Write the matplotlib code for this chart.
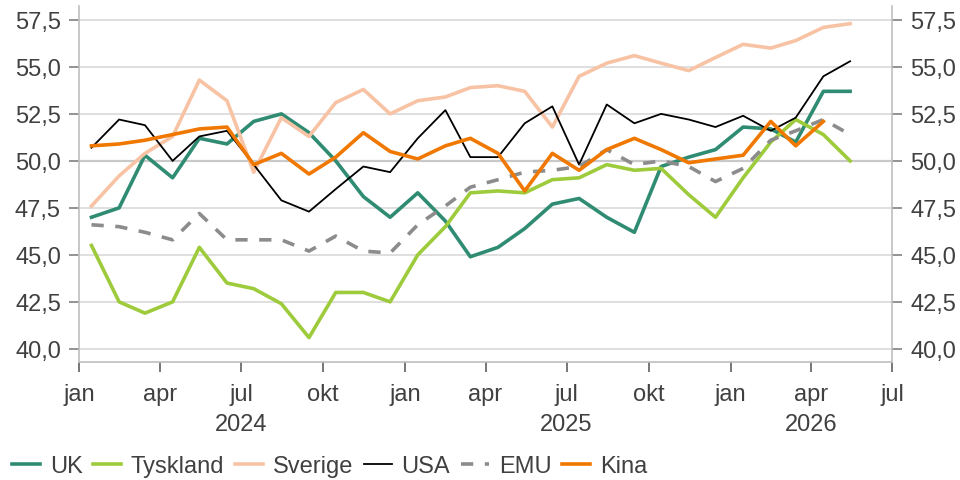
import matplotlib
matplotlib.use('Agg')
import matplotlib.pyplot as plt
from matplotlib.ticker import FuncFormatter
import numpy as np
import pandas as pd

# --- Data: PMI (index), monthly, Jan 2024 - May 2026 ---
months = pd.date_range('2024-01-01', '2026-05-01', freq='MS')
dates = months + pd.Timedelta(days=14)   # plotted mid-month

uk = [47.0, 47.5, 50.3, 49.1, 51.2, 50.9, 52.1, 52.5, 51.5, 50.0,
      48.1, 47.0, 48.3, 46.8, 44.9, 45.4, 46.4, 47.7, 48.0, 47.0,
      46.2, 49.7, 50.2, 50.6, 51.8, 51.7, 51.0, 53.7, 53.7]
tyskland = [45.5, 42.5, 41.9, 42.5, 45.4, 43.5, 43.2, 42.4, 40.6, 43.0,
            43.0, 42.5, 45.0, 46.5, 48.3, 48.4, 48.3, 49.0, 49.1, 49.8,
            49.5, 49.6, 48.2, 47.0, 49.1, 51.0, 52.2, 51.4, 50.0]
sverige = [47.6, 49.2, 50.4, 51.3, 54.3, 53.2, 49.4, 52.3, 51.3, 53.1,
           53.8, 52.5, 53.2, 53.4, 53.9, 54.0, 53.7, 51.8, 54.5, 55.2,
           55.6, 55.2, 54.8, 55.5, 56.2, 56.0, 56.4, 57.1, 57.3]
usa = [50.7, 52.2, 51.9, 50.0, 51.3, 51.6, 49.8, 47.9, 47.3, 48.5,
       49.7, 49.4, 51.2, 52.7, 50.2, 50.2, 52.0, 52.9, 49.8, 53.0,
       52.0, 52.5, 52.2, 51.8, 52.4, 51.6, 52.3, 54.5, 55.3]
emu = [46.6, 46.5, 46.2, 45.8, 47.2, 45.8, 45.8, 45.8, 45.2, 46.0,
       45.2, 45.1, 46.6, 47.6, 48.6, 49.0, 49.4, 49.5, 49.7, 50.6,
       49.8, 50.0, 49.7, 48.9, 49.6, 51.1, 51.6, 52.2, 51.4]
kina = [50.8, 50.9, 51.1, 51.4, 51.7, 51.8, 49.8, 50.4, 49.3, 50.2,
        51.5, 50.5, 50.1, 50.8, 51.2, 50.4, 48.4, 50.4, 49.5, 50.6,
        51.2, 50.6, 49.9, 50.1, 50.3, 52.1, 50.8, 52.1]

# --- Style ---
FONT = 'Liberation Sans'
FS = 17
TXT = '#404040'
GRID = '#d9d9d9'
SPINE = '#bfbfbf'

plt.rcParams['font.family'] = [FONT, 'DejaVu Sans']

fig = plt.figure(figsize=(9.6, 4.81), dpi=100)
ax = fig.add_axes([79 / 960, 1 - 363 / 481, (892 - 79) / 960, (363 - 7) / 481])

ax.set_ylim(39.3, 58.24)
ax.set_xlim(pd.Timestamp('2024-01-01'), pd.Timestamp('2026-07-01'))

ax.set_yticks(np.arange(40, 57.6, 2.5))
ax.grid(axis='y', color=GRID, linewidth=1.2, zorder=0)
ax.axhline(50, color='#7f7f7f', linewidth=1.5, zorder=1)

lw = 2.6
ax.plot(dates, uk, color='#2f8c72', lw=lw, label='UK', zorder=3)
ax.plot(dates, tyskland, color='#9dcb3c', lw=lw, label='Tyskland', zorder=3)
ax.plot(dates, sverige, color='#f7c3a4', lw=lw, label='Sverige', zorder=3)
ax.plot(dates, usa, color='black', lw=1.3, label='USA', zorder=3)
ax.plot(dates, emu, color='#8c8c8c', lw=lw, ls=(0, (3.4, 3.2)), label='EMU', zorder=3)
ax.plot(dates[:len(kina)], kina, color='#f07800', lw=lw, label='Kina', zorder=4)

# spines
for side in ['left', 'right', 'bottom']:
    ax.spines[side].set_color(SPINE)
    ax.spines[side].set_linewidth(1.2)
ax.spines['top'].set_visible(False)

# y axis, labels on both sides
ax.yaxis.set_major_formatter(FuncFormatter(lambda v, p: f'{v:.1f}'.replace('.', ',')))
ax.tick_params(axis='y', left=True, right=True, labelleft=True, labelright=True,
               length=7, width=1.2, color='#808080', labelsize=FS,
               labelcolor=TXT, pad=6)

# x axis: quarter ticks, Norwegian month names
qticks = pd.date_range('2024-01-01', '2026-07-01', freq='QS')
mnames = {1: 'jan', 4: 'apr', 7: 'jul', 10: 'okt'}
ax.set_xticks(qticks)
ax.set_xticklabels([mnames[d.month] for d in qticks])
ax.tick_params(axis='x', length=7, width=1.2, color='#606060', labelsize=FS,
               labelcolor=TXT, pad=8)

# year labels below
trans = ax.get_xaxis_transform()
for yr, pos in [('2024', '2024-07-01'), ('2025', '2025-07-01'), ('2026', '2026-04-01')]:
    ax.text(pd.Timestamp(pos), -62 / 356, yr, transform=trans, ha='center', va='center',
            fontsize=FS, color=TXT)

# legend at bottom
leg = fig.legend(loc='center left', bbox_to_anchor=(12 / 960, 1 - 467 / 481),
                 ncol=6, frameon=False, fontsize=FS, handlelength=1.2,
                 handletextpad=0.4, columnspacing=0.45, borderaxespad=0, borderpad=0)
for t in leg.get_texts():
    t.set_color(TXT)

fig.savefig('out.png', dpi=100)
